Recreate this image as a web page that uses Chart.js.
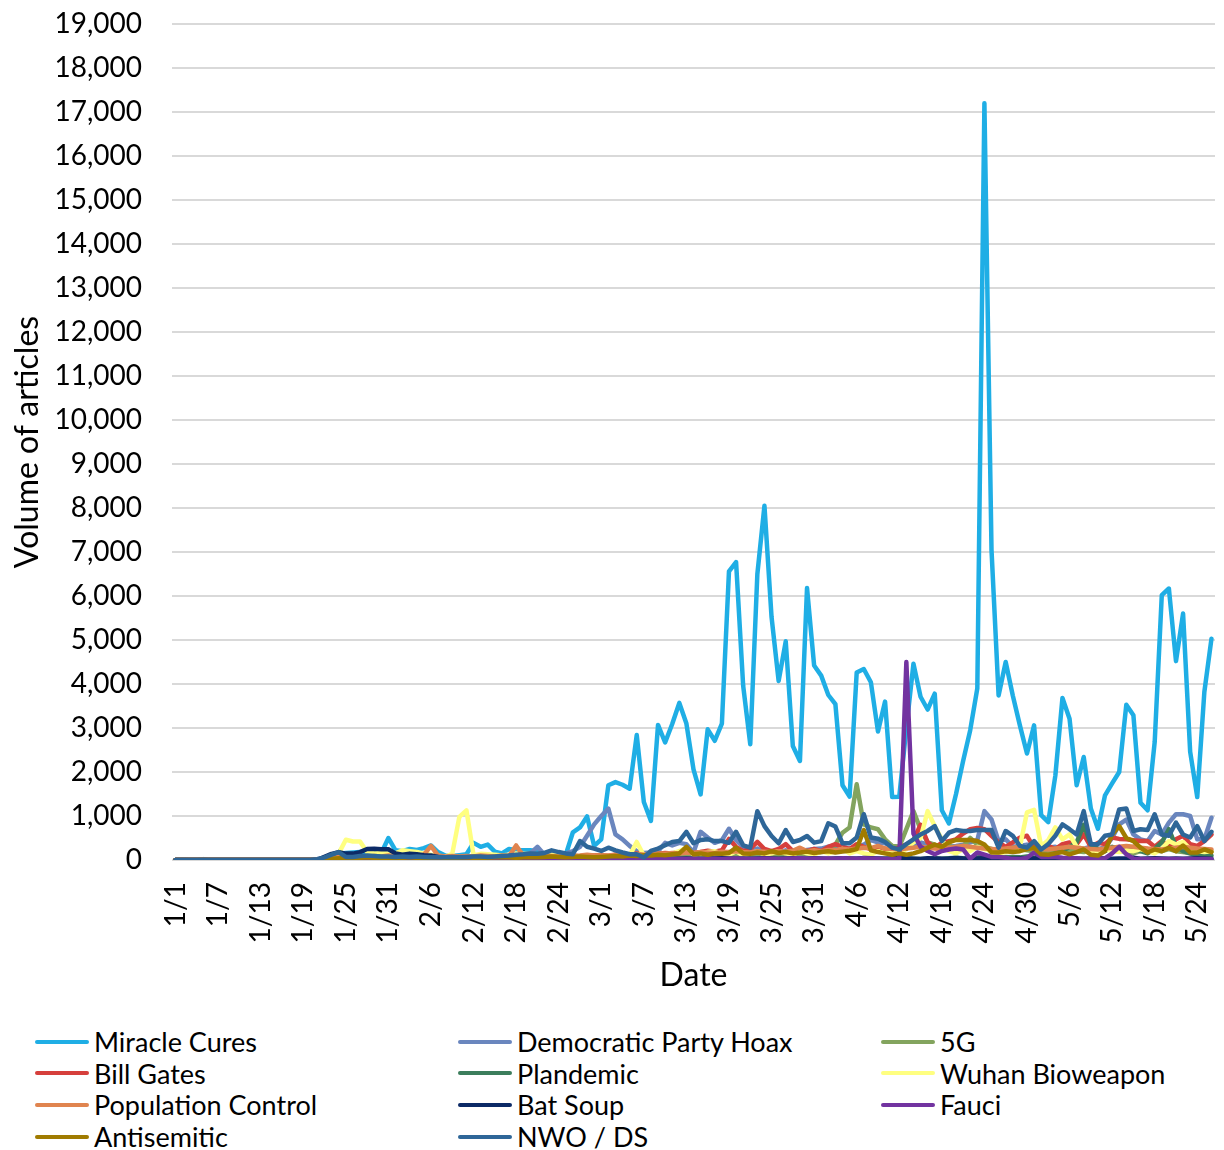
<!DOCTYPE html>
<html>
<head>
<meta charset="utf-8">
<title>Volume of articles by narrative</title>
<script src="https://cdn.jsdelivr.net/npm/chart.js@4.4.1/dist/chart.umd.min.js"></script>
<style>
  html, body { margin: 0; padding: 0; background: #fff; }
  #wrap { position: relative; width: 1224px; height: 1150px; font-family: Lato, "Noto Sans", sans-serif; }
  #c { position: absolute; left: 0; top: 0; }
  .lg { position: absolute; display: flex; align-items: center; height: 32px; font-size: 27px; color: #000; white-space: nowrap; }
  .lg i { display: inline-block; width: 54px; height: 4px; border-radius: 2px; margin-right: 5px; }
</style>
</head>
<body>
<div id="wrap">
  <canvas id="c" width="1224" height="1010"></canvas>
  <div id="legend"></div>
</div>
<script>
// Daily categories, 1 Jan - 26 May 2020
const days = [
  '1/1','1/2','1/3','1/4','1/5','1/6','1/7','1/8','1/9','1/10','1/11','1/12','1/13','1/14','1/15','1/16',
  '1/17','1/18','1/19','1/20','1/21','1/22','1/23','1/24','1/25','1/26','1/27','1/28','1/29','1/30','1/31',
  '2/1','2/2','2/3','2/4','2/5','2/6','2/7','2/8','2/9','2/10','2/11','2/12','2/13','2/14','2/15',
  '2/16','2/17','2/18','2/19','2/20','2/21','2/22','2/23','2/24','2/25','2/26','2/27','2/28','2/29',
  '3/1','3/2','3/3','3/4','3/5','3/6','3/7','3/8','3/9','3/10','3/11','3/12','3/13','3/14','3/15','3/16',
  '3/17','3/18','3/19','3/20','3/21','3/22','3/23','3/24','3/25','3/26','3/27','3/28','3/29','3/30','3/31',
  '4/1','4/2','4/3','4/4','4/5','4/6','4/7','4/8','4/9','4/10','4/11','4/12','4/13','4/14','4/15',
  '4/16','4/17','4/18','4/19','4/20','4/21','4/22','4/23','4/24','4/25','4/26','4/27','4/28','4/29','4/30',
  '5/1','5/2','5/3','5/4','5/5','5/6','5/7','5/8','5/9','5/10','5/11','5/12','5/13','5/14','5/15','5/16',
  '5/17','5/18','5/19','5/20','5/21','5/22','5/23','5/24','5/25','5/26'
];

// Dates printed under the axis
const tickLabels = ['1/1','1/7','1/13','1/19','1/25','1/31','2/6','2/12','2/18','2/24','3/1','3/7','3/13',
  '3/19','3/25','3/31','4/6','4/12','4/18','4/24','4/30','5/6','5/12','5/18','5/24'];

// Articles per day, one array per narrative (Jan | Feb | Mar | Apr | May)
const miracleCures = [
  0,10,0,0,20,0,0,0,0,0,0,0,0,0,0,0,0,0,0,0,10,40,90,130,160,170,180,170,180,160,500,
  220,200,250,230,270,330,180,100,90,110,130,390,300,350,190,150,250,220,220,220,200,150,180,150,120,630,740,990,320,
  470,1700,1770,1710,1620,2840,1320,890,3070,2670,3090,3570,3100,2060,1490,2970,2710,3100,6560,6770,3960,2630,6500,8050,5520,4070,4970,2590,2250,6180,4420,
  4190,3750,3540,1700,1440,4260,4340,4040,2920,3600,1430,1440,3000,4460,3710,3420,3780,1130,830,1500,2250,2950,3900,17200,7050,3740,4500,3740,3060,2420,
  3060,1020,860,1920,3680,3210,1700,2340,1170,710,1470,1740,2000,3530,3290,1300,1130,2680,6020,6170,4520,5600,2460,1430,3820,5030
];
const democraticPartyHoax = [
  0,0,0,0,0,0,0,0,0,0,0,0,0,0,0,0,0,0,0,0,20,60,80,60,50,60,50,50,40,50,60,
  50,50,60,50,70,60,50,40,50,60,60,70,60,80,70,80,90,100,120,150,300,120,150,130,150,200,300,550,810,
  1000,1170,580,470,320,200,160,170,200,390,330,390,360,170,640,510,390,450,710,450,300,200,260,170,200,180,220,170,200,230,250,
  260,300,330,300,250,280,350,450,400,380,320,300,350,320,400,350,300,280,300,320,350,400,450,1110,920,430,470,300,320,350,
  300,250,280,300,250,300,280,260,300,250,280,500,810,920,580,470,430,660,580,850,1040,1040,1000,470,470,960
];
const fiveG = [
  0,0,0,0,0,0,0,0,0,0,0,0,0,0,0,0,0,0,0,0,0,0,10,20,30,20,20,30,20,20,30,
  20,30,20,30,40,30,20,30,20,30,30,40,30,30,40,30,40,50,40,30,40,50,40,30,40,50,60,50,40,
  50,40,60,50,60,70,50,60,80,70,90,80,100,90,80,100,120,100,90,110,100,120,130,110,120,100,130,150,120,140,150,
  180,200,350,620,740,1720,810,740,700,470,320,300,700,1110,700,400,350,250,350,200,300,500,350,300,250,200,180,200,250,220,
  200,180,150,200,250,220,200,180,250,200,220,250,200,180,150,200,250,220,200,250,200,180,150,200,180,200
];
const billGates = [
  0,0,0,0,0,0,0,0,0,0,0,0,0,0,0,0,0,0,0,0,0,20,40,60,50,40,50,60,40,50,60,
  50,40,60,50,70,60,50,40,60,50,60,70,50,60,70,80,60,70,80,70,80,90,70,80,90,100,80,90,100,
  110,90,120,100,130,150,120,110,140,160,150,180,200,160,180,210,190,220,480,300,200,250,410,250,200,250,360,200,250,200,250,
  200,300,360,300,250,360,300,250,300,250,250,280,350,450,800,400,280,390,430,470,600,700,730,700,550,400,300,400,510,550,
  280,250,320,250,360,400,360,580,300,390,360,510,480,470,450,430,430,300,430,300,470,550,360,320,430,580
];
const plandemic = [
  0,0,0,0,0,0,0,0,0,0,0,0,0,0,0,0,0,0,0,0,0,0,0,0,0,0,0,0,0,0,0,
  0,0,0,0,0,0,0,0,0,0,0,0,0,0,0,0,0,0,0,0,0,0,0,0,0,0,0,0,0,
  0,0,0,0,0,0,0,0,0,0,0,0,0,0,0,0,0,10,0,0,10,0,10,0,10,0,10,10,0,10,10,
  10,10,20,10,20,30,20,10,20,30,20,30,40,30,20,30,40,30,40,50,40,50,60,80,60,50,60,70,60,80,
  50,80,100,150,200,300,400,800,350,250,200,300,250,200,300,200,150,250,400,700,300,200,150,100,120,100
];
const wuhanBioweapon = [
  0,0,0,0,0,0,0,0,0,0,0,0,0,0,0,0,0,0,0,0,0,50,100,150,460,420,420,180,150,160,170,
  150,220,200,180,150,120,100,70,140,980,1130,110,140,130,120,100,120,150,140,130,120,150,130,120,130,100,80,60,80,
  70,80,70,80,100,410,100,60,80,100,150,200,280,120,150,180,200,150,120,200,100,150,200,120,150,200,150,120,200,150,120,
  200,150,200,250,150,200,150,120,200,150,200,150,250,400,500,1110,770,470,200,150,250,200,300,250,200,150,180,200,300,1080,
  1140,320,450,740,470,580,300,250,200,180,250,200,180,220,200,250,200,150,250,430,350,410,250,200,180,200
];
const populationControl = [
  0,0,0,0,0,0,0,0,0,0,0,0,0,0,0,0,0,0,0,0,0,40,60,80,70,60,80,70,90,80,100,
  90,80,100,90,120,320,100,80,90,80,90,80,100,90,80,100,90,330,100,90,80,100,90,80,100,90,100,120,100,
  110,100,120,130,110,140,120,130,150,140,160,150,170,160,180,170,160,190,180,200,180,170,200,190,180,200,190,210,280,200,220,
  200,230,220,250,240,260,280,270,320,260,250,240,260,280,300,280,260,250,280,300,320,300,280,260,250,240,260,280,300,280,
  260,250,240,260,280,300,280,260,250,240,260,280,300,320,300,280,260,250,240,260,280,300,280,260,250,240
];
const batSoup = [
  0,0,0,0,0,0,0,0,0,0,0,0,0,0,0,0,0,0,0,0,0,70,140,180,145,145,180,250,255,245,245,
  150,120,145,130,110,105,70,60,50,45,40,45,40,35,40,35,30,35,30,30,35,30,30,25,30,25,30,25,20,
  20,25,20,25,20,30,25,20,25,30,25,30,35,30,25,30,35,40,35,30,35,30,35,40,35,30,35,40,30,35,40,
  35,30,35,40,35,30,45,40,35,30,35,40,35,30,25,40,35,30,35,45,35,30,35,40,45,40,35,30,35,40,
  35,40,35,30,35,45,35,30,35,40,35,30,35,40,50,30,35,40,35,30,35,30,35,40,35,30
];
const fauci = [
  0,0,0,0,0,0,0,0,0,0,0,0,0,0,0,0,0,0,0,0,0,5,10,10,15,10,10,15,10,10,15,
  10,15,10,10,15,10,10,15,10,15,10,15,20,15,10,15,20,15,10,20,15,20,15,20,25,15,20,25,20,
  20,25,20,15,20,25,20,25,30,20,25,20,25,30,25,20,30,25,30,35,30,25,30,35,30,25,30,35,40,30,35,
  30,35,30,40,35,30,40,35,30,25,20,30,4500,600,300,205,130,205,240,260,240,30,170,120,70,70,50,20,20,50,
  170,70,70,70,50,40,40,30,30,30,40,150,300,130,30,20,20,25,20,20,20,25,20,20,25,20
];
const antisemitic = [
  0,0,0,0,0,0,0,0,0,0,0,0,0,0,0,0,0,0,0,0,0,20,30,40,50,40,50,60,50,40,50,
  40,50,60,50,40,50,60,50,40,50,60,50,40,50,60,70,60,50,60,70,60,70,80,70,60,70,80,70,60,
  70,80,90,80,100,90,110,100,120,110,130,150,300,130,150,120,150,140,160,280,150,140,170,150,200,160,180,150,170,190,160,
  180,200,170,190,210,250,680,220,180,150,120,150,120,150,200,280,350,300,400,455,455,455,430,350,170,170,200,180,200,250,
  280,130,120,150,180,130,180,240,120,100,200,580,770,500,430,280,170,240,200,280,200,330,170,170,240,180
];
const nwoDs = [
  0,0,0,0,0,0,0,0,0,0,0,0,0,0,0,0,0,0,0,0,20,60,120,180,70,70,90,100,90,80,80,
  70,80,70,80,70,60,70,60,70,60,70,80,80,70,80,90,100,120,130,150,140,160,220,180,150,130,430,300,260,
  205,280,220,170,130,130,55,205,260,335,410,430,640,380,455,470,430,430,390,640,335,280,1110,770,545,380,680,410,455,545,395,
  430,835,760,380,380,510,1040,510,485,410,280,240,360,470,580,660,770,430,620,680,660,660,680,680,680,280,660,550,320,280,
  430,240,360,550,810,700,580,1110,360,360,550,580,1150,1170,660,700,680,1040,580,550,850,580,510,770,430,640
];

const seriesNames = ['Miracle Cures','Democratic Party Hoax','5G','Bill Gates','Plandemic','Wuhan Bioweapon',
  'Population Control','Bat Soup','Fauci','Antisemitic','NWO / DS'];
const seriesValues = [miracleCures, democraticPartyHoax, fiveG, billGates, plandemic, wuhanBioweapon,
  populationControl, batSoup, fauci, antisemitic, nwoDs];
const seriesColors = ['#1FAEE5','#6A86BE','#83A45E','#D63F3C','#3C7E5C','#FFFF80',
  '#E0844F','#0C2A66','#7233A0','#A07B00','#2E6698'];

Chart.defaults.font.family = "Lato, 'Noto Sans', sans-serif";
Chart.defaults.color = '#000';

const datasets = seriesNames.map((name, i) => ({
  label: name,
  data: seriesValues[i],
  borderColor: seriesColors[i],
  backgroundColor: seriesColors[i],
  borderWidth: 4.5,
  pointRadius: 0,
  pointHoverRadius: 0,
  tension: 0,
  fill: false,
  borderCapStyle: 'round',
  borderJoinStyle: 'round',
  // later series sit on top of earlier ones
  order: seriesNames.length - 1 - i
}));

const chart = new Chart(document.getElementById('c'), {
  type: 'line',
  data: { labels: days, datasets },
  options: {
    responsive: false,
    animation: false,
    devicePixelRatio: 1,
    events: [],
    layout: { padding: { left: 0, right: 9, top: 24, bottom: 0 } },
    plugins: { legend: { display: false }, tooltip: { enabled: false } },
    scales: {
      x: {
        offset: true,
        grid: { display: false, drawTicks: false },
        border: { display: false },
        ticks: {
          autoSkip: false, minRotation: 90, maxRotation: 90, padding: 22,
          color: '#000', font: { size: 28 },
          callback: (v, i) => tickLabels.includes(days[i]) ? days[i] : ''
        },
        title: { display: true, text: 'Date', color: '#000', font: { size: 32 }, padding: { top: 0, bottom: 15 } },
        afterFit: s => { s.height = 150; s.paddingLeft = 0; s.paddingRight = 0; }
      },
      y: {
        min: 0, max: 19000,
        grid: { color: '#D9D9D9', lineWidth: 2, drawTicks: false },
        border: { display: false },
        ticks: {
          stepSize: 1000, padding: 30, color: '#000', font: { size: 28 },
          callback: v => Number(v).toLocaleString('en-US')
        },
        title: { display: true, text: 'Volume of articles', color: '#000', font: { size: 32 }, padding: { top: 8, bottom: 0 } },
        afterFit: s => { s.width = 172; s.paddingTop = 0; s.paddingBottom = 0; }
      }
    }
  }
});

// Legend: three columns, filled row by row
const legend = document.getElementById('legend');
seriesNames.forEach((name, i) => {
  const col = i % 3, row = Math.floor(i / 3);
  const item = document.createElement('div');
  item.className = 'lg';
  item.style.left = (35 + col * 423) + 'px';
  item.style.top = (1041.5 + row * 31.7 - 16) + 'px';
  const sw = document.createElement('i');
  sw.style.background = seriesColors[i];
  item.appendChild(sw);
  item.appendChild(document.createTextNode(name));
  legend.appendChild(item);
});
</script>
</body>
</html>
